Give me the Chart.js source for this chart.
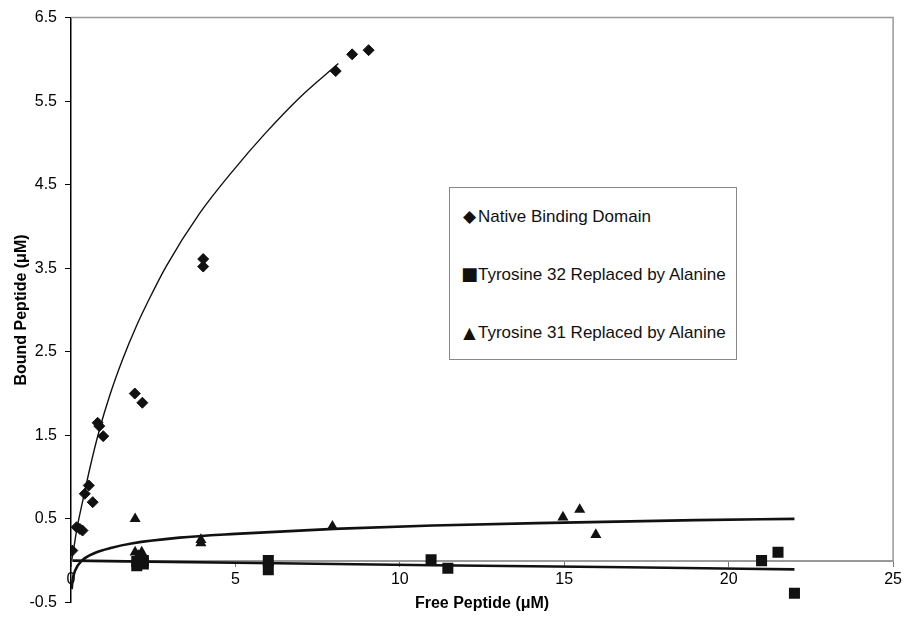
<!DOCTYPE html>
<html>
<head>
<meta charset="utf-8">
<script src="https://cdn.jsdelivr.net/npm/chart.js@4.4.0/dist/chart.umd.min.js"></script>
<style>
  html, body { margin: 0; padding: 0; background: #fff; }
  #wrap { position: relative; width: 906px; height: 620px; }
  #legend {
    position: absolute; left: 449px; top: 187px; width: 286px; height: 171px;
    border: 1px solid #888; background: #fff;
    font-family: 'Liberation Sans', Arial, sans-serif; font-size: 17px; color: #111;
  }
  .item { position: absolute; left: 11px; height: 20px; line-height: 20px; white-space: nowrap; }
  .mk { display: inline-block; width: 17px; text-align: center; font-family: 'DejaVu Sans', sans-serif; }
</style>
</head>
<body>
<div id="wrap">
  <canvas id="chart" width="906" height="620"></canvas>
  <div id="legend">
    <div class="item" style="top:18px"><span class="mk" style="font-size:17px">◆</span>Native Binding Domain</div>
    <div class="item" style="top:76px"><span class="mk" style="font-size:18px">■</span>Tyrosine 32 Replaced by Alanine</div>
    <div class="item" style="top:135px"><span class="mk" style="font-size:16px">▲</span>Tyrosine 31 Replaced by Alanine</div>
  </div>
</div>
<script>
// measured points
const nativeX = [0.04, 0.17, 0.27, 0.35, 0.42, 0.54, 0.66, 0.81, 0.86, 0.98, 1.94, 2.17, 4.02, 4.02, 8.05, 8.55, 9.05]
const nativeY = [0.12, 0.40, 0.38, 0.36, 0.80, 0.90, 0.70, 1.65, 1.61, 1.49, 2.00, 1.89, 3.61, 3.52, 5.86, 6.06, 6.11]

const tyr32X = [2.0, 2.0, 2.2, 2.2, 6.0, 6.0, 10.95, 11.46, 21.0, 21.5, 22.0]
const tyr32Y = [-0.01, -0.06, 0.0, -0.04, 0.0, -0.11, 0.01, -0.09, 0.0, 0.10, -0.39]

const tyr31X = [1.95, 1.95, 2.15, 2.05, 3.95, 3.95, 7.95, 14.96, 15.47, 15.96]
const tyr31Y = [0.50, 0.10, 0.10, 0.06, 0.25, 0.21, 0.41, 0.52, 0.61, 0.31]

// trendlines
const nativeFitX = [0.02, 0.08, 0.18, 0.37, 0.57, 0.86, 1.18, 1.58, 1.98, 2.39, 2.89, 3.9, 4.91, 5.92, 6.92, 8.13]
const nativeFitY = [0.0, 0.14, 0.38, 0.74, 1.1, 1.56, 1.98, 2.42, 2.8, 3.14, 3.52, 4.15, 4.66, 5.12, 5.53, 5.95]

const tyr31FitX = [0.02, 0.05, 0.13, 0.33, 0.74, 1.24, 1.84, 3.3, 5, 8, 11, 15, 19, 22]
const tyr31FitY = [-0.34, -0.23, -0.115, 0.0, 0.095, 0.155, 0.205, 0.275, 0.32, 0.38, 0.42, 0.455, 0.485, 0.50]

const tyr32FitX = [0.05, 5, 11, 16.9, 22]
const tyr32FitY = [0.0, -0.025, -0.055, -0.08, -0.105]

const xTicks = [0, 5, 10, 15, 20, 25]

function pts(xs, ys) { return xs.map((x, i) => ({ x, y: ys[i] })) }

const frame = {
  id: 'frame',
  beforeDatasetsDraw(chart) {
    const { ctx, chartArea: a, scales } = chart
    const y0 = scales.y.getPixelForValue(0)
    ctx.save()
    ctx.strokeStyle = '#9a9a9a'
    ctx.lineWidth = 1.5
    ctx.beginPath()
    ctx.moveTo(a.left, a.top)
    ctx.lineTo(a.right, a.top)
    ctx.lineTo(a.right, y0)
    ctx.stroke()
    ctx.restore()
  }
}

const black = '#111'
const fontFam = "'Liberation Sans', Arial, sans-serif"

new Chart(document.getElementById('chart'), {
  type: 'scatter',
  data: {
    datasets: [
      { label: 'nativeFit', data: pts(nativeFitX, nativeFitY), showLine: true, pointRadius: 0,
        borderColor: black, borderWidth: 1.4, cubicInterpolationMode: 'monotone' },
      { label: 'tyr31Fit', data: pts(tyr31FitX, tyr31FitY), showLine: true, pointRadius: 0,
        borderColor: black, borderWidth: 2.6, cubicInterpolationMode: 'monotone' },
      { label: 'tyr32Fit', data: pts(tyr32FitX, tyr32FitY), showLine: true, pointRadius: 0,
        borderColor: black, borderWidth: 2.6, cubicInterpolationMode: 'monotone' },
      { label: 'Native Binding Domain', data: pts(nativeX, nativeY), pointStyle: 'rectRot',
        pointRadius: 5.5, backgroundColor: black, borderColor: black, borderWidth: 1 },
      { label: 'Tyrosine 32 Replaced by Alanine', data: pts(tyr32X, tyr32Y), pointStyle: 'rect',
        pointRadius: 7.8, backgroundColor: black, borderColor: black, borderWidth: 0 },
      { label: 'Tyrosine 31 Replaced by Alanine', data: pts(tyr31X, tyr31Y), pointStyle: 'triangle',
        pointRadius: 6.4, backgroundColor: black, borderColor: black, borderWidth: 0 }
    ]
  },
  options: {
    responsive: false,
    animation: false,
    devicePixelRatio: 1,
    layout: { padding: { left: 0, top: 16, right: 8, bottom: -39 } },
    plugins: { legend: { display: false }, tooltip: { enabled: false } },
    scales: {
      x: {
        type: 'linear',
        position: { y: 0 },
        min: 0, max: 25,
        afterBuildTicks: s => { s.ticks = xTicks.map(v => ({ value: v })) },
        afterFit: s => { s.height = 57 },
        ticks: { color: '#000', font: { family: fontFam, size: 16 }, padding: 4 },
        grid: { drawOnChartArea: false, tickLength: 5, tickColor: '#777', tickWidth: 1 },
        border: { color: '#9a9a9a', width: 2 },
        title: { display: true, text: 'Free Peptide (μM)', color: '#000',
          font: { family: fontFam, size: 16, weight: 'bold' }, padding: { top: 4, bottom: 4 } }
      },
      y: {
        type: 'linear',
        min: -0.5, max: 6.5,
        afterFit: s => { s.width = 71 },
        ticks: { stepSize: 1, color: '#000', font: { family: fontFam, size: 16 }, padding: 8 },
        grid: { drawOnChartArea: false, tickLength: 6, tickColor: '#000', tickWidth: 1 },
        border: { color: '#000', width: 1.5 },
        title: { display: true, text: 'Bound Peptide (μM)', color: '#000',
          font: { family: fontFam, size: 16, weight: 'bold' }, padding: { top: 12, bottom: 4 } }
      }
    }
  },
  plugins: [frame]
})
</script>
</body>
</html>
